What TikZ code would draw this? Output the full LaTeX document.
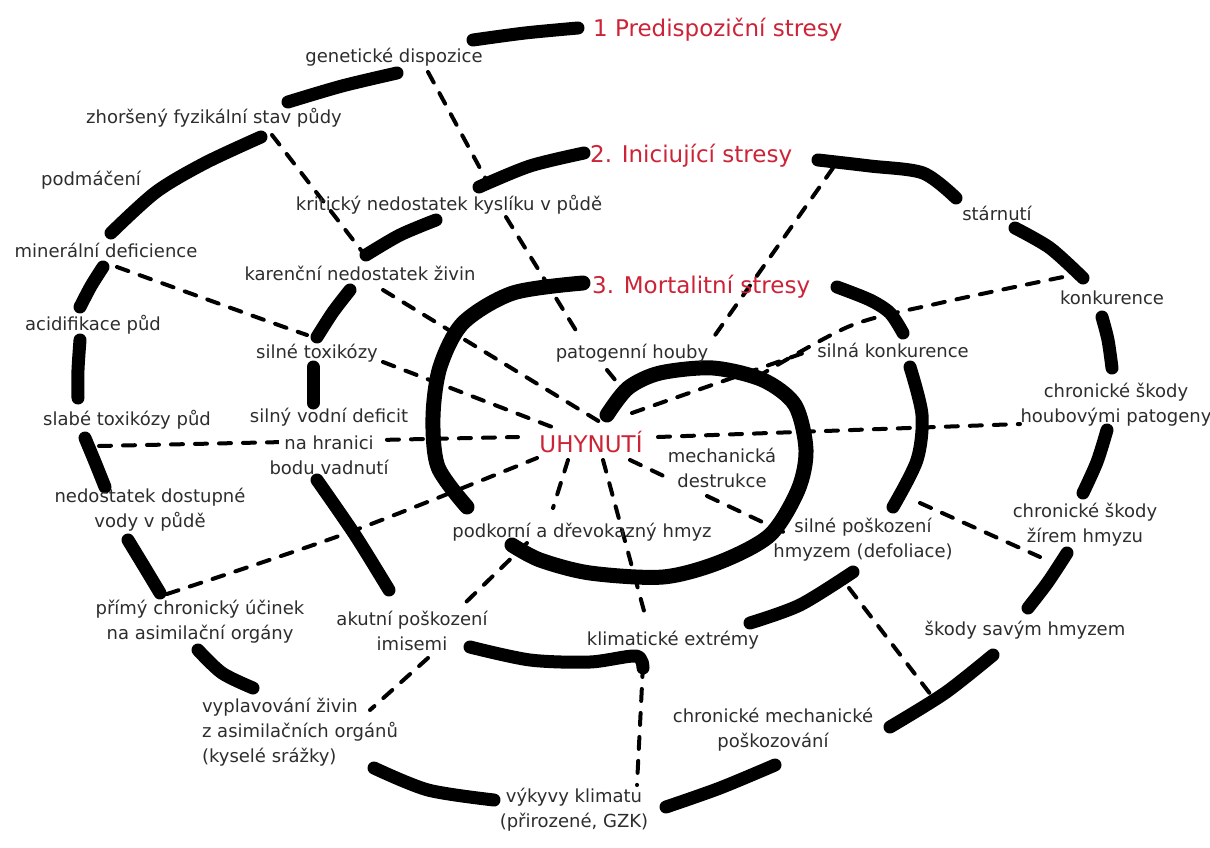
\documentclass[tikz,border=0pt]{standalone}
\usepackage{fontspec}
\setmainfont{DejaVu Sans}
\definecolor{txt}{RGB}{45,45,45}
\definecolor{rd}{RGB}{205,35,55}
\begin{document}
\begin{tikzpicture}[x=1pt,y=-1pt,
  lbl/.style={font=\fontsize{18}{25}\selectfont, text=txt, inner sep=0pt, align=center},
  redlbl/.style={font=\fontsize{23}{28}\selectfont, text=rd, inner sep=0pt},
  spiral/.style={line width=13pt, line cap=round, line join=round},
  core/.style={line width=15pt, line cap=round, line join=round},
  dsh/.style={line width=4pt, dash pattern=on 12pt off 12pt, line cap=round}]
\fill[white] (0,0) rectangle (1210,848);
\useasboundingbox (0,0) rectangle (1210,848);

% ---- end points of the dashed connectors
\coordinate (gA) at (428,72);   \coordinate (gB) at (488,183);
\coordinate (zA) at (272,135);  \coordinate (zB) at (364,254);
\coordinate (kA) at (506,217);  \coordinate (kB) at (580,337);
\coordinate (iA) at (833,168);  \coordinate (iB) at (713,338);
\coordinate (pA) at (607,370);  \coordinate (pB) at (625,392);
\coordinate (mA) at (117,267);  \coordinate (mM) at (270,322); \coordinate (mB) at (307,335);
\coordinate (r1A) at (383,290); \coordinate (r1B) at (600,422);
\coordinate (r2A) at (383,362); \coordinate (r2B) at (552,427);
\coordinate (r3A) at (99,446);  \coordinate (r3B) at (518,437);
\coordinate (r4A) at (167,594); \coordinate (r4M) at (350,532); \coordinate (r4B) at (537,458);
\coordinate (r5A) at (568,460); \coordinate (r5B) at (553,508);
\coordinate (r6A) at (527,543); \coordinate (r6B) at (463,605);
\coordinate (r7A) at (428,658); \coordinate (r7B) at (370,710);
\coordinate (r8A) at (603,460); \coordinate (r8B) at (647,622);
\coordinate (r9A) at (643,665); \coordinate (r9B) at (637,785);
\coordinate (r10A) at (630,460); \coordinate (r10B) at (670,479);
\coordinate (r11A) at (707,496); \coordinate (r11B) at (790,535);
\coordinate (r12A) at (920,503); \coordinate (r12B) at (1040,557);
\coordinate (r13A) at (849,588); \coordinate (r13B) at (931,695);
\coordinate (r14A) at (658,437); \coordinate (r14B) at (1020,424);
\coordinate (r15A) at (632,413); \coordinate (r15B) at (812,350);
\coordinate (r16A) at (757,377); \coordinate (r16M) at (850,326); \coordinate (r16N) at (940,303); \coordinate (r16B) at (1063,277);

% ---- dashed connectors
\draw[dsh] (gA) -- (gB);
\draw[dsh] (zA) -- (zB);
\draw[dsh] (kA) -- (kB);
\draw[dsh] (iA) -- (iB);
\draw[dsh] (pA) -- (pB);
\draw[dsh] plot[smooth] coordinates {(mA) (mM) (mB)};
\draw[dsh] (r1A) -- (r1B);
\draw[dsh] (r2A) -- (r2B);
\draw[dsh] (r3A) -- (r3B);
\draw[dsh] plot[smooth] coordinates {(r4A) (r4M) (r4B)};
\draw[dsh] (r5A) -- (r5B);
\draw[dsh] (r6A) -- (r6B);
\draw[dsh] (r7A) -- (r7B);
\draw[dsh] (r8A) -- (r8B);
\draw[dsh] (r9A) -- (r9B);
\draw[dsh] (r10A) -- (r10B);
\draw[dsh] (r11A) -- (r11B);
\draw[dsh] (r12A) -- (r12B);
\draw[dsh] (r13A) -- (r13B);
\draw[dsh] (r14A) -- (r14B);
\draw[dsh] (r15A) -- (r15B);
\draw[dsh] plot[smooth] coordinates {(r16A) (r16M) (r16N) (r16B)};

% ---- outer spiral (level 1)
\draw[spiral] plot[smooth] coordinates {(473,40) (525,33) (578,28)};
\draw[spiral] plot[smooth] coordinates {(397,73) (342,86) (288,102)};
\draw[spiral] plot[smooth] coordinates {(261,137) (205,163) (156,192) (111,233)};
\draw[spiral] plot[smooth] coordinates {(103,267) (91,286) (80,307)};
\draw[spiral] plot[smooth] coordinates {(80,340) (78,370) (78,398)};
\draw[spiral] plot[smooth] coordinates {(85,438) (95,462) (105,487)};
\draw[spiral] plot[smooth] coordinates {(128,540) (145,568) (160,593)};
\draw[spiral] plot[smooth] coordinates {(198,650) (222,673) (253,688)};
\draw[spiral] plot[smooth] coordinates {(374,768) (428,790) (494,800)};
\draw[spiral] plot[smooth] coordinates {(666,807) (720,788) (775,765)};
\draw[spiral] plot[smooth] coordinates {(890,727) (945,693) (993,655)};
\draw[spiral] plot[smooth] coordinates {(1028,608) (1048,582) (1067,553)};
\draw[spiral] plot[smooth] coordinates {(1083,493) (1097,462) (1107,430)};
\draw[spiral] plot[smooth] coordinates {(1112,368) (1108,340) (1102,317)};
\draw[spiral] plot[smooth] coordinates {(1083,278) (1050,248) (1015,228)};
\draw[spiral] plot[smooth] coordinates {(956,198) (923,173) (870,166) (818,160)};
% ---- level 2
\draw[spiral] plot[smooth] coordinates {(584,153) (530,166) (479,187)};
\draw[spiral] plot[smooth] coordinates {(436,220) (400,235) (366,255)};
\draw[spiral] plot[smooth] coordinates {(350,290) (333,312) (317,337)};
\draw[spiral] plot[smooth] coordinates {(313,367) (313,403)};
\draw[spiral] plot[smooth] coordinates {(317,480) (355,535) (389,590)};
\draw[spiral] plot[smooth] coordinates {(470,647) (530,660) (590,662) (636,656) (643,668)};
\draw[spiral] plot[smooth] coordinates {(750,623) (800,605) (853,572)};
\draw[spiral] plot[smooth] coordinates {(893,507) (917,460) (922,415) (910,367)};
\draw[spiral] plot[smooth] coordinates {(903,333) (890,313) (870,300) (837,287)};
% ---- level 3 and core
\draw[core] plot[smooth] coordinates {(583,283) (513,293) (463,323) (440,367) (433,417) (438,467) (467,507)};
\draw[core] plot[smooth] coordinates {(607,415) (628,388) (660,373) (713,368) (763,380) (795,405) (806,450) (798,490) (770,535) (720,562) (663,577) (590,573) (540,560) (512,545)};

% ---- labels
\node[redlbl, anchor=west] (p1) at (593,30) {1 Predispoziční stresy};
\node[redlbl, anchor=west] (p2) at (590,156) {2. Iniciující stresy};
\node[redlbl, anchor=west] (p3) at (592,287) {3. Mortalitní stresy};
\node[redlbl] (uhy) at (591,442) {UHYNUTÍ};
\node[lbl] (gen) at (394,57) {genetické dispozice};
\node[lbl] (zho) at (214,118) {zhoršený fyzikální stav půdy};
\node[lbl] (podm) at (91,180) {podmáčení};
\node[lbl] (krit) at (449,205) {kritický nedostatek kyslíku v půdě};
\node[lbl] (star) at (997,213) {stárnutí};
\node[lbl] (min) at (106,250) {minerální deficience};
\node[lbl] (kar) at (360,273) {karenční nedostatek živin};
\node[lbl] (konk) at (1112,298) {konkurence};
\node[lbl] (acid) at (93,325) {acidifikace půd};
\node[lbl] (tox) at (317,353) {silné toxikózy};
\node[lbl] (pat) at (632,353) {patogenní houby};
\node[lbl] (silk) at (893,350) {silná konkurence};
\node[lbl] (chh) at (1116,405) {chronické škody\\houbovými patogeny};
\node[lbl] (slab) at (127,420) {slabé toxikózy půd};
\node[lbl] (svd1) at (329,417) {silný vodní deficit};
\node[lbl, fill=white, inner xsep=5pt, inner ysep=2pt] (svd2) at (329,443) {na hranici};
\node[lbl] (svd3) at (329,467) {bodu vadnutí};
\node[lbl] (mech) at (722,468) {mechanická\\destrukce};
\node[lbl] (zir) at (1085,525) {chronické škody\\žírem hmyzu};
\node[lbl] (nedo) at (150,510) {nedostatek dostupné\\vody v půdě};
\node[lbl] (podk) at (582,532) {podkorní a dřevokazný hmyz};
\node[lbl] (silp) at (863,540) {silné poškození\\hmyzem (defoliace)};
\node[lbl] (pri) at (200,622) {přímý chronický účinek\\na asimilační orgány};
\node[lbl] (akut) at (412,631) {akutní poškození\\imisemi};
\node[lbl] (klim) at (673,640) {klimatické extrémy};
\node[lbl] (savy) at (1025,630) {škody savým hmyzem};
\node[lbl, align=left] (vypl) at (300,732) {vyplavování živin\\z asimilačních orgánů\\(kyselé srážky)};
\node[lbl] (chm) at (773,730) {chronické mechanické\\poškozování};
\node[lbl] (vyk) at (574,810) {výkyvy klimatu\\(přirozené, GZK)};
\end{tikzpicture}
\end{document}
